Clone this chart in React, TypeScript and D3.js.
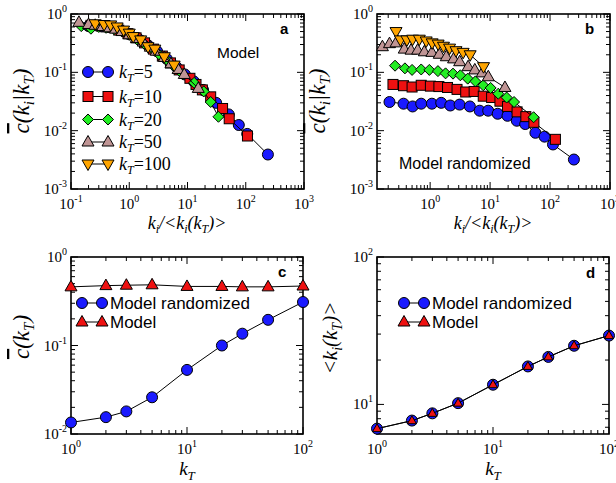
import React from "react";
import * as d3 from "d3";

const SERIF = "'Liberation Serif','Times New Roman',serif";
const SANS = "'Liberation Sans',Arial,sans-serif";

const BLUE = "#1a1aff";
const RED = "#ee1111";
const GREEN = "#22ee22";
const BROWN = "#c09595";
const ORANGE = "#ffa500";

// legend labels for panels a/b
const kTLabels = ["5", "10", "20", "50", "100"];
const shapes = ["circle", "square", "diamond", "triUp", "triDown"];
const colors = [BLUE, RED, GREEN, BROWN, ORANGE];

// panel a: Model
const aX5 = [0.2, 0.34, 0.48, 0.68, 1.0, 1.45, 2.1, 3.0, 4.4, 6.4, 9.0, 12.8, 18.5, 31, 51, 76, 106, 240];
const aY5 = [0.62, 0.61, 0.6, 0.54, 0.45, 0.37, 0.29, 0.23, 0.17, 0.125, 0.092, 0.07, 0.05, 0.03, 0.019, 0.0125, 0.0088, 0.0039];
const aX10 = [0.22, 0.33, 0.47, 0.66, 0.95, 1.31, 1.83, 2.6, 3.7, 5.1, 7.2, 11, 14, 18, 25, 40, 52, 107];
const aY10 = [0.64, 0.62, 0.59, 0.53, 0.46, 0.39, 0.32, 0.25, 0.19, 0.145, 0.11, 0.079, 0.062, 0.05, 0.038, 0.024, 0.016, 0.0081];
const aX20 = [0.15, 0.22, 0.3, 0.4, 0.55, 0.75, 1.0, 1.35, 1.8, 2.4, 3.3, 4.5, 6.0, 8.3, 13, 19, 25, 34];
const aY20 = [0.62, 0.56, 0.6, 0.58, 0.55, 0.5, 0.44, 0.37, 0.31, 0.26, 0.2, 0.16, 0.125, 0.093, 0.066, 0.047, 0.031, 0.0173];
const aX50 = [0.137, 0.2, 0.26, 0.35, 0.45, 0.58, 0.75, 1.0, 1.33, 1.74, 2.3, 2.9, 4.0, 5.2, 6.9, 8.8, 15.3];
const aY50 = [0.72, 0.66, 0.64, 0.61, 0.58, 0.55, 0.5, 0.44, 0.38, 0.33, 0.27, 0.23, 0.18, 0.14, 0.112, 0.092, 0.053];
const aX100 = [0.26, 0.37, 0.48, 0.62, 0.8, 1.0, 1.17, 1.57, 2.1, 2.75, 4.0, 5.9];
const aY100 = [0.68, 0.66, 0.65, 0.6, 0.53, 0.47, 0.41, 0.36, 0.275, 0.25, 0.185, 0.133];

// panel b: Model randomized
const bX5 = [0.21, 0.36, 0.51, 0.71, 1.07, 1.53, 2.17, 3.1, 4.6, 6.7, 9.3, 13.4, 19.5, 27.9, 38.5, 57, 81, 112, 250];
const bY5 = [0.031, 0.029, 0.026, 0.029, 0.029, 0.03, 0.027, 0.028, 0.026, 0.022, 0.022, 0.0195, 0.018, 0.0148, 0.013, 0.0092, 0.0079, 0.0058, 0.0032];
const bX10 = [0.24, 0.36, 0.5, 0.71, 1.01, 1.4, 1.95, 2.81, 3.92, 5.42, 7.69, 10.6, 14.6, 19.5, 28.2, 39.5, 53.8, 123];
const bY10 = [0.062, 0.059, 0.056, 0.06, 0.058, 0.057, 0.055, 0.051, 0.046, 0.047, 0.039, 0.037, 0.032, 0.026, 0.021, 0.0174, 0.0139, 0.0071];
const bX20 = [0.26, 0.38, 0.5, 0.71, 0.97, 1.35, 1.81, 2.41, 3.19, 4.24, 5.7, 7.69, 10.2, 13.7, 18.9, 25.1, 53.2];
const bY20 = [0.13, 0.117, 0.11, 0.112, 0.11, 0.105, 0.096, 0.095, 0.089, 0.078, 0.07, 0.06, 0.054, 0.043, 0.037, 0.031, 0.017];
const bX50 = [0.16, 0.21, 0.27, 0.37, 0.48, 0.62, 0.8, 1.07, 1.42, 1.86, 2.46, 3.11, 4.3, 5.56, 7.4, 9.33, 17.7];
const bY50 = [0.275, 0.31, 0.32, 0.25, 0.24, 0.24, 0.225, 0.22, 0.204, 0.185, 0.17, 0.152, 0.125, 0.11, 0.098, 0.084, 0.055];
const bX100 = [0.27, 0.32, 0.41, 0.51, 0.66, 0.86, 1.08, 1.36, 1.67, 2.11, 2.7, 3.55, 4.65, 7.78];
const bY100 = [0.5, 0.36, 0.36, 0.37, 0.37, 0.345, 0.32, 0.305, 0.28, 0.26, 0.235, 0.22, 0.2, 0.125];

// panels c/d
const kT = [1, 2, 3, 5, 10, 20, 30, 50, 100];
const cRand = [0.0135, 0.0155, 0.018, 0.026, 0.053, 0.1, 0.136, 0.195, 0.31];
const cModel = [0.46, 0.475, 0.48, 0.485, 0.465, 0.465, 0.46, 0.46, 0.47];
const dRand = [6.85, 7.77, 8.7, 10.2, 13.6, 18.1, 21.0, 25.0, 29.3];
const dModel = [6.85, 7.75, 8.7, 10.2, 13.6, 18.1, 21.0, 25.0, 29.3];

function Marker({ shape, cx, cy, fill, s = 1 }: any) {
  const st = { fill, stroke: "#000", strokeWidth: 1 };
  if (shape === "circle") return <circle cx={cx} cy={cy} r={5.5 * s} {...st} />;
  if (shape === "square") return <rect x={cx - 5 * s} y={cy - 5 * s} width={10 * s} height={10 * s} {...st} />;
  let p: number[][] = [];
  if (shape === "diamond") p = [[0, -5.5], [5.5, 0], [0, 5.5], [-5.5, 0]];
  if (shape === "triUp") p = [[0, -6.5], [6, 4], [-6, 4]];
  if (shape === "triDown") p = [[0, 6.5], [6, -4], [-6, -4]];
  return <polygon points={p.map(([a, b]) => `${cx + a * s},${cy + b * s}`).join(" ")} {...st} />;
}

function Series({ xs, ys, x, y, shape, fill, s = 1 }: any) {
  const pts = xs.map((v: number, i: number) => [x(v), y(ys[i])]);
  const line = d3.line();
  return (
    <g>
      <path d={line(pts) || ""} fill="none" stroke="#000" strokeWidth={1} />
      {pts.map((p: number[], i: number) => (
        <Marker key={i} shape={shape} cx={p[0]} cy={p[1]} fill={fill} s={s} />
      ))}
    </g>
  );
}

const isMajor = (v: number) => Math.abs(Math.log10(v) - Math.round(Math.log10(v))) < 1e-6;

function Pow({ x, y, e, anchor }: any) {
  return (
    <text x={x} y={y} textAnchor={anchor} fontFamily={SERIF} fontSize={15}>
      10
      <tspan dy={-7} fontSize={10}>{e}</tspan>
    </text>
  );
}

function Frame({ x, y }: any) {
  const [x0, x1] = x.range();
  const [y0, y1] = y.range();
  const xt = x.ticks().filter((v: number) => v >= x.domain()[0] * 0.999 && v <= x.domain()[1] * 1.001);
  const yt = y.ticks().filter((v: number) => v >= y.domain()[0] * 0.999 && v <= y.domain()[1] * 1.001);
  return (
    <g>
      {xt.map((v: number, i: number) => {
        const px = x(v);
        const L = isMajor(v) ? 7 : 4;
        return (
          <g key={"x" + i}>
            <line x1={px} x2={px} y1={y0} y2={y0 - L} stroke="#000" />
            <line x1={px} x2={px} y1={y1} y2={y1 + L} stroke="#000" />
            {isMajor(v) && <Pow x={px} y={y0 + 20} e={String(Math.round(Math.log10(v)))} anchor="middle" />}
          </g>
        );
      })}
      {yt.map((v: number, i: number) => {
        const py = y(v);
        const L = isMajor(v) ? 7 : 4;
        return (
          <g key={"y" + i}>
            <line x1={x0} x2={x0 + L} y1={py} y2={py} stroke="#000" />
            <line x1={x1} x2={x1 - L} y1={py} y2={py} stroke="#000" />
            {isMajor(v) && <Pow x={x0 - 4} y={py + 5} e={String(Math.round(Math.log10(v)))} anchor="end" />}
          </g>
        );
      })}
      <rect x={x0} y={y1} width={x1 - x0} height={y0 - y1} fill="none" stroke="#000" strokeWidth={1.6} />
    </g>
  );
}

function CTitle({ x, y, sub }: any) {
  // rotated y-axis title: c-bar(...)
  return (
    <g transform={`translate(${x},${y}) rotate(-90)`}>
      <text textAnchor="middle" fontFamily={SERIF} fontStyle="italic" fontSize={23}>
        <tspan textDecoration="overline">c</tspan>
        <tspan>(</tspan>
        {sub === "ki" ? (
          <>
            <tspan>k</tspan>
            <tspan dy={5} fontSize={15}>i</tspan>
            <tspan dy={-5}>|k</tspan>
          </>
        ) : (
          <tspan>k</tspan>
        )}
        <tspan dy={5} fontSize={15}>T</tspan>
        <tspan dy={-5}>)</tspan>
      </text>
    </g>
  );
}

function KiTitle({ x, y }: any) {
  return (
    <text x={x} y={y} textAnchor="middle" fontFamily={SERIF} fontStyle="italic" fontSize={18}>
      k<tspan dy={4} fontSize={12}>i</tspan>
      <tspan dy={-4}>/&lt;k</tspan>
      <tspan dy={4} fontSize={12}>i</tspan>
      <tspan dy={-4}>(k</tspan>
      <tspan dy={4} fontSize={12}>T</tspan>
      <tspan dy={-4}>)&gt;</tspan>
    </text>
  );
}

function KTTitle({ x, y }: any) {
  return (
    <text x={x} y={y} textAnchor="middle" fontFamily={SERIF} fontStyle="italic" fontSize={19}>
      k<tspan dy={5} fontSize={13}>T</tspan>
    </text>
  );
}

function LegendRow({ x, y, shape, fill, children, s = 1, w = 20 }: any) {
  return (
    <g>
      <line x1={x} x2={x + w} y1={y} y2={y} stroke="#000" />
      <Marker shape={shape} cx={x} cy={y} fill={fill} s={s} />
      <Marker shape={shape} cx={x + w} cy={y} fill={fill} s={s} />
      {children}
    </g>
  );
}

export default function App() {
  const ax = d3.scaleLog().domain([0.1, 1000]).range([71, 304]);
  const ay = d3.scaleLog().domain([0.001, 1]).range([189, 14]);
  const bx = d3.scaleLog().domain([0.13, 1000]).range([377, 610]);
  const by = d3.scaleLog().domain([0.001, 1]).range([189, 14]);
  const cx = d3.scaleLog().domain([1, 100]).range([71, 303]);
  const cy = d3.scaleLog().domain([0.01, 1]).range([434, 257]);
  const dx = d3.scaleLog().domain([1, 100]).range([377, 609]);
  const dy = d3.scaleLog().domain([6.3, 100]).range([434, 257]);

  const aSeries = [[aX5, aY5], [aX10, aY10], [aX20, aY20], [aX50, aY50], [aX100, aY100]];
  const bSeries = [[bX5, bY5], [bX10, bY10], [bX20, bY20], [bX50, bY50], [bX100, bY100]];
  const legY = [72, 96.5, 119.5, 142, 164];

  return (
    <svg width={616} height={483} style={{ position: "absolute", left: 0, top: 0, background: "#fff" }}>
      {/* panel a */}
      <Frame x={ax} y={ay} />
      {aSeries.map((d, i) => (
        <Series key={i} xs={d[0]} ys={d[1]} x={ax} y={ay} shape={shapes[i]} fill={colors[i]} />
      ))}
      {kTLabels.map((k, i) => (
        <LegendRow key={i} x={88} y={legY[i]} shape={shapes[i]} fill={colors[i]}>
          <text x={119} y={legY[i] + 6} fontFamily={SERIF} fontSize={18}>
            <tspan fontStyle="italic">k</tspan>
            <tspan dy={4} fontSize={12} fontStyle="italic">T</tspan>
            <tspan dy={-4}>={k}</tspan>
          </text>
        </LegendRow>
      ))}
      <text x={217} y={58} fontFamily={SANS} fontSize={15.5}>Model</text>
      <text x={280} y={34} fontFamily={SANS} fontSize={15} fontWeight="bold">a</text>
      <CTitle x={29} y={101} sub="ki" />
      <KiTitle x={187} y={229} />

      {/* panel b */}
      <Frame x={bx} y={by} />
      {bSeries.map((d, i) => (
        <Series key={i} xs={d[0]} ys={d[1]} x={bx} y={by} shape={shapes[i]} fill={colors[i]} />
      ))}
      <text x={399} y={169} fontFamily={SANS} fontSize={16}>Model randomized</text>
      <text x={585} y={34} fontFamily={SANS} fontSize={15} fontWeight="bold">b</text>
      <CTitle x={325} y={101} sub="ki" />
      <KiTitle x={493} y={229} />

      {/* panel c */}
      <Frame x={cx} y={cy} />
      <Series xs={kT} ys={cModel} x={cx} y={cy} shape="triUp" fill={RED} />
      <Series xs={kT} ys={cRand} x={cx} y={cy} shape="circle" fill={BLUE} />
      <LegendRow x={82} y={303} shape="circle" fill={BLUE}>
        <text x={110} y={309} fontFamily={SANS} fontSize={17}>Model randomized</text>
      </LegendRow>
      <LegendRow x={82} y={322} shape="triUp" fill={RED}>
        <text x={110} y={328} fontFamily={SANS} fontSize={17}>Model</text>
      </LegendRow>
      <text x={278} y={277} fontFamily={SANS} fontSize={15} fontWeight="bold">c</text>
      <CTitle x={29} y={337} sub="T" />
      <KTTitle x={187} y={475} />

      {/* panel d */}
      <Frame x={dx} y={dy} />
      <Series xs={kT} ys={dRand} x={dx} y={dy} shape="circle" fill={BLUE} />
      <Series xs={kT} ys={dModel} x={dx} y={dy} shape="triUp" fill={RED} s={0.75} />
      <LegendRow x={404} y={303} shape="circle" fill={BLUE}>
        <text x={432} y={309} fontFamily={SANS} fontSize={17}>Model randomized</text>
      </LegendRow>
      <LegendRow x={404} y={322} shape="triUp" fill={RED}>
        <text x={432} y={328} fontFamily={SANS} fontSize={17}>Model</text>
      </LegendRow>
      <text x={586} y={278} fontFamily={SANS} fontSize={15} fontWeight="bold">d</text>
      <g transform="translate(337,338) rotate(-90)">
        <text textAnchor="middle" fontFamily={SERIF} fontStyle="italic" fontSize={21}>
          &lt;k<tspan dy={5} fontSize={14}>i</tspan>
          <tspan dy={-5}>(k</tspan>
          <tspan dy={5} fontSize={14}>T</tspan>
          <tspan dy={-5}>)&gt;</tspan>
        </text>
      </g>
      <KTTitle x={493} y={475} />
    </svg>
  );
}
